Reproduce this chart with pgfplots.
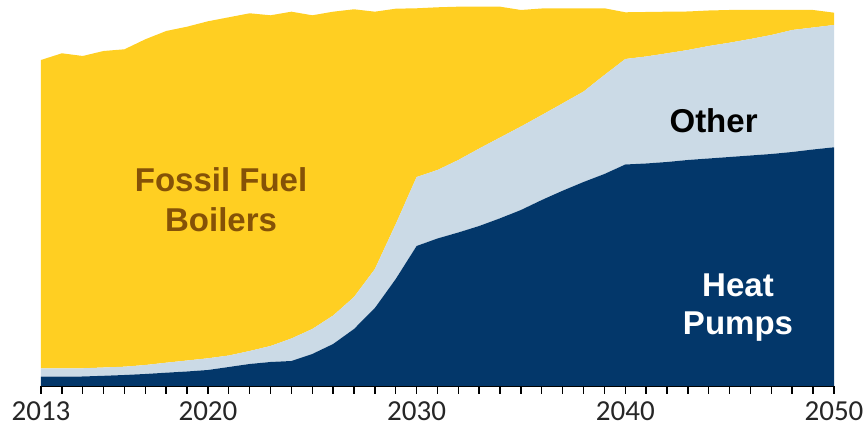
\documentclass[border=0pt]{standalone}
\usepackage{fontspec}
\setmainfont{Carlito}
\newfontfamily\labelfont{Liberation Sans}
\usepackage{pgfplots}
\usepackage{pgfplotstable}
\pgfplotsset{compat=1.18}

\definecolor{hpnavy}{HTML}{03376A}
\definecolor{otherblue}{HTML}{CBDAE6}
\definecolor{fossilyellow}{HTML}{FFCF22}
\definecolor{fossiltext}{HTML}{855207}

% year, heat pumps, other, fossil fuel boilers (stacked)
\pgfplotstableread{
x     hp     other  fossil
2012  9.3    8.4    308.3
2013  9.3    8.4    315.0
2014  9.5    8.2    312.3
2015  10.2   8.3    316.5
2016  11.0   8.3    317.4
2017  12.0   9.0    325.7
2018  13.3   10.0   331.7
2019  14.5   11.0   333.8
2020  16.0   11.7   337.0
2021  19.0   11.5   338.2
2022  22.0   13.0   337.7
2023  24.0   16.0   330.7
2024  25.0   22.5   326.8
2025  32.0   25.0   313.7
2026  42.0   28.5   303.8
2027  57.0   32.0   287.7
2028  78.0   39.0   257.3
2029  107.0  55.0   215.3
2030  140.0  69.0   168.7
2031  147.5  68.5   162.7
2032  153.5  72.5   153.3
2033  160.0  77.5   141.8
2034  167.7  80.8   130.8
2035  176.0  83.5   116.5
2036  186.0  85.0   106.5
2037  195.3  87.4   94.8
2038  204.0  90.5   83.0
2039  212.0  99.0   66.7
2040  221.5  105.5  46.7
2041  222.5  107.0  44.5
2042  224.0  108.7  41.6
2043  226.0  110.0  38.5
2044  227.5  112.5  35.5
2045  229.0  114.3  32.7
2046  230.5  116.5  29.0
2047  232.0  119.0  25.0
2048  234.0  122.0  20.0
2049  236.5  122.0  17.5
2050  238.7  122.3  12.3
}\heatdata

\begin{document}
\begin{tikzpicture}
\begin{axis}[
  at={(0,0)}, anchor=south west,
  scale only axis,
  width=396.5pt, height=193pt,
  xmin=2012, xmax=2050,
  ymin=0, ymax=386,
  stack plots=y,
  axis x line*=bottom,
  axis y line=none,
  axis line style={-, line width=0.8pt, black},
  xtick={2012,2020,2030,2040,2050},
  xticklabels={2013,2020,2030,2040,2050},
  minor xtick={2012,...,2050},
  tick align=outside,
  major tick length=4pt,
  minor tick length=4pt,
  every tick/.style={black, line width=0.7pt},
  xticklabel style={font=\fontsize{14.5}{16}\selectfont, text=black!85, yshift=-0.3pt},
  clip=false,
]
\addplot[fill=hpnavy, draw=none] table[x=x, y=hp] {\heatdata} \closedcycle;
\addplot[fill=otherblue, draw=none] table[x=x, y=other] {\heatdata} \closedcycle;
\addplot[fill=fossilyellow, draw=none] table[x=x, y=fossil] {\heatdata} \closedcycle;

\coordinate (fossilpos) at (axis cs:2020.63,186);
\coordinate (otherpos)  at (axis cs:2044.23,265.3);
\coordinate (hppos)     at (axis cs:2045.4,78.5);
\end{axis}

\node[font=\labelfont\bfseries\fontsize{16.5}{20}\selectfont, text=fossiltext, align=center]
  at (fossilpos) {Fossil Fuel\\Boilers};
\node[font=\labelfont\bfseries\fontsize{16.5}{20}\selectfont, text=black]
  at (otherpos) {Other};
\node[font=\labelfont\bfseries\fontsize{16.5}{19}\selectfont, text=white, align=center]
  at (hppos) {Heat\\Pumps};

\pgfresetboundingbox
\useasboundingbox (-20.5pt,-20pt) rectangle (413pt,193pt);
\end{tikzpicture}
\end{document}
